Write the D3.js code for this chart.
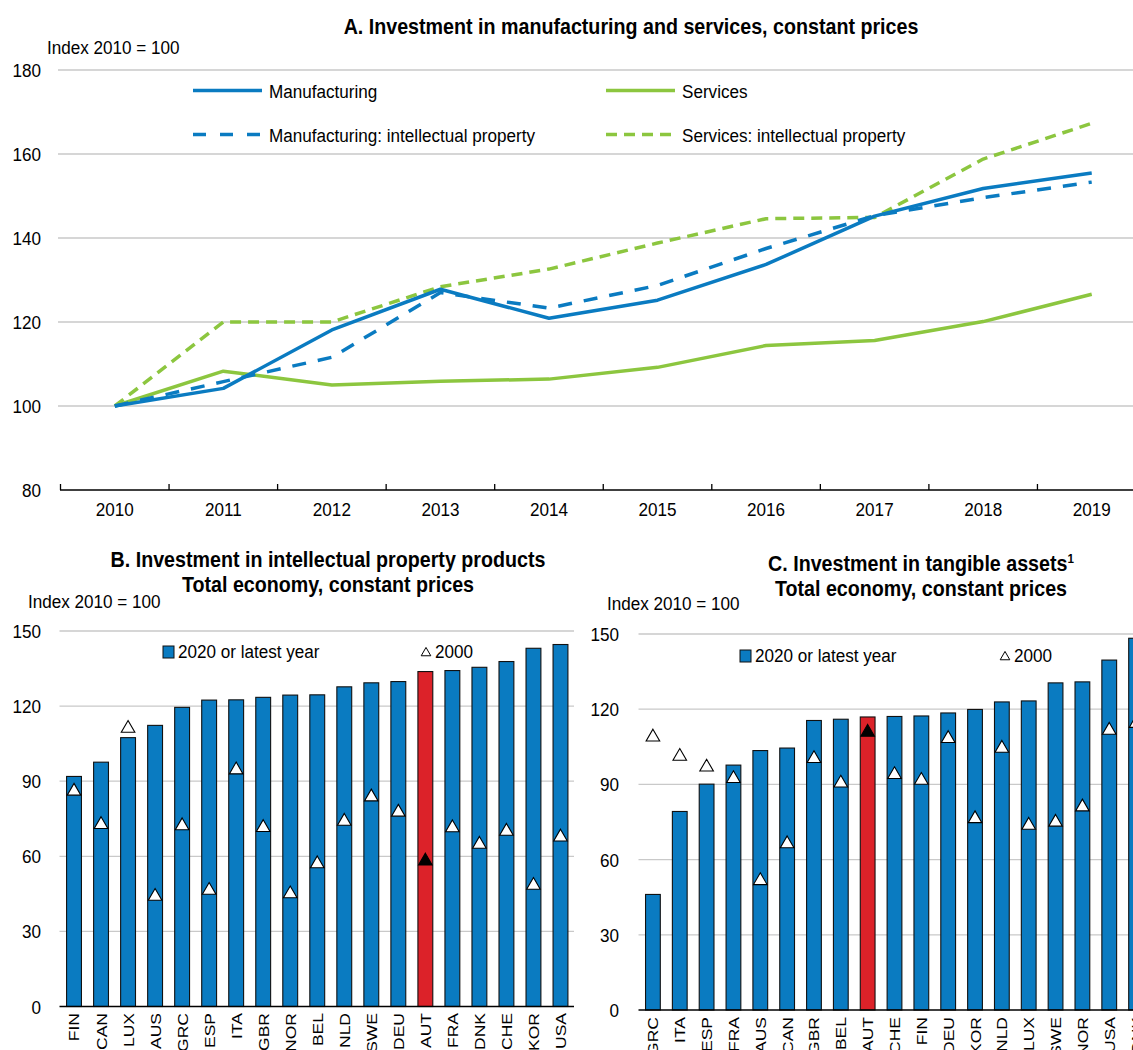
<!DOCTYPE html>
<html><head><meta charset="utf-8">
<script src="https://cdn.jsdelivr.net/npm/d3@7"></script>
<style>
body{margin:0;background:#fff;}
svg{display:block;font-family:"Liberation Sans",Arial,sans-serif;}
</style></head><body>
<svg id="c" width="1133" height="1050"></svg>
<script>
// ---- Panel A data ----
const years = ["2010","2011","2012","2013","2014","2015","2016","2017","2018","2019"];
const manufacturing   = [100,104.2,118.1,127.8,120.9,125.2,133.7,145.2,151.8,155.5];
const manufacturingIP = [100,105.8,111.6,127.0,123.3,128.7,137.5,145.3,149.6,153.3];
const services        = [100,108.3,105.0,105.9,106.4,109.2,114.4,115.6,120.1,126.6];
const servicesIP      = [100,120.0,120.0,128.4,132.6,138.8,144.6,144.9,158.8,167.3];
const yTicksA = [80,100,120,140,160,180];

// ---- Panel B data ----
const countriesB = ["FIN","CAN","LUX","AUS","GRC","ESP","ITA","GBR","NOR","BEL","NLD","SWE","DEU","AUT","FRA","DNK","CHE","KOR","USA"];
const latestB = [91.9,97.6,107.4,112.3,119.5,122.4,122.5,123.5,124.4,124.5,127.7,129.3,129.8,133.8,134.2,135.5,137.8,143.1,144.6];
const y2000B  = [86.0,72.7,111.1,44.0,72.2,46.4,94.5,71.5,45.0,57.0,74.0,83.7,77.6,58.1,71.4,64.8,70.0,48.4,67.7];

// ---- Panel C data ----
const countriesC = ["GRC","ITA","ESP","FRA","AUS","CAN","GBR","BEL","AUT","CHE","FIN","DEU","KOR","NLD","LUX","SWE","NOR","USA","DNK"];
const latestC = [46.1,79.2,90.1,97.7,103.5,104.5,115.5,116.0,116.9,117.1,117.3,118.5,119.9,122.9,123.3,130.5,130.9,139.6,148.3];
const y2000C  = [108.9,101.2,96.9,92.3,51.6,66.3,100.3,90.5,110.8,93.9,91.6,108.3,76.3,104.4,73.7,74.9,81.0,111.6,114.3];
const yTicksBC = [0,30,60,90,120,150];

const highlight = "AUT";
const BLUE = "#0a7bc1", GREEN = "#8cc63f", RED = "#dc2229", GRID = "#c9c9c9";
const FS = 19, SX = 0.9;        // regular text
const FB = 22, SXB = 0.894;     // bold titles

const svg = d3.select("#c");

function T(g, x, y, str, o={}){
  const size = o.size || (o.bold?FB:FS);
  const sx = o.sx || (o.bold?SXB:SX);
  const t = g.append("text")
    .attr("transform", `translate(${x},${y}) scale(${sx},1)`)
    .attr("font-size", size)
    .attr("text-anchor", o.anchor || "start")
    .attr("fill", "#000");
  if (o.bold) t.attr("font-weight","bold");
  t.text(str);
  return t;
}

// ================= Panel A =================
(function(){
  const x = d3.scaleBand().domain(years).range([60.5, 1146]);
  const y = d3.scaleLinear().domain([80,180]).range([490,70]);
  const g = svg.append("g");
  T(g, 631, 34, "A. Investment in manufacturing and services, constant prices", {bold:true, anchor:"middle"});
  T(g, 47, 54, "Index 2010 = 100");
  g.selectAll("line.grid").data(yTicksA.filter(d=>d>80)).join("line")
    .attr("x1",58).attr("x2",1133).attr("y1",d=>y(d)).attr("y2",d=>y(d))
    .attr("stroke",GRID).attr("stroke-width",1.3);
  yTicksA.forEach(d=>T(g, 41, y(d)+7, d, {anchor:"end"}));
  g.append("line").attr("x1",60).attr("x2",1133).attr("y1",490).attr("y2",490).attr("stroke","#000").attr("stroke-width",1.5);
  g.selectAll("line.xt").data(years.map(d=>x(d))).join("line")
    .attr("x1",d=>d).attr("x2",d=>d).attr("y1",490).attr("y2",484).attr("stroke","#000").attr("stroke-width",1.3);
  years.forEach(d=>T(g, x(d)+x.bandwidth()/2, 516, d, {anchor:"middle"}));
  const line = d3.line().x((d,i)=>x(years[i])+x.bandwidth()/2).y(d=>y(d));
  const series = [
    {v:services,c:GREEN,dash:null},
    {v:servicesIP,c:GREEN,dash:"11,7"},
    {v:manufacturingIP,c:BLUE,dash:"14,12"},
    {v:manufacturing,c:BLUE,dash:null}
  ];
  series.forEach(s=>{
    g.append("path").datum(s.v).attr("d",line).attr("fill","none").attr("stroke",s.c)
      .attr("stroke-width",3.5).attr("stroke-dasharray",s.dash).attr("stroke-linejoin","round");
  });
  const leg = [
    {t:"Manufacturing",c:BLUE,dash:null,x:193,y:90.5},
    {t:"Manufacturing: intellectual property",c:BLUE,dash:"13,14",x:193,y:134.5},
    {t:"Services",c:GREEN,dash:null,x:606,y:90.5},
    {t:"Services: intellectual property",c:GREEN,dash:"11,7",x:606,y:134.5}
  ];
  leg.forEach(l=>{
    g.append("line").attr("x1",l.x).attr("x2",l.x+69).attr("y1",l.y).attr("y2",l.y)
      .attr("stroke",l.c).attr("stroke-width",3.5).attr("stroke-dasharray",l.dash);
    T(g, l.x+76, l.y+7, l.t);
  });
})();

// ================= Bar panels =================
function barPanel(o){
  const g = svg.append("g");
  const x = d3.scaleBand().domain(o.cats).range(o.xr).paddingInner(0.45).paddingOuter(0.225);
  const y = d3.scaleLinear().domain([0,150]).range(o.yr);
  o.title.forEach((t,i)=>{
    const tx = T(g, o.tx, o.ty+i*25, t.t, {bold:true, anchor:"middle"});
    if (t.sup) tx.append("tspan").attr("font-size",13).attr("dy",-8).text(t.sup);
  });
  T(g, o.ix, o.iy, "Index 2010 = 100");
  const xEnd = Math.min(o.xr[1],1133);
  g.selectAll("line.grid").data(yTicksBC.filter(d=>d>0)).join("line")
    .attr("x1",o.xr[0]-1).attr("x2",xEnd).attr("y1",d=>y(d)).attr("y2",d=>y(d))
    .attr("stroke",GRID).attr("stroke-width",1.3);
  yTicksBC.forEach(d=>T(g, o.lx, y(d)+7, d, {anchor:"end"}));
  g.selectAll("rect.bar").data(o.cats).join("rect")
    .attr("x",d=>x(d)).attr("width",x.bandwidth())
    .attr("y",(d,i)=>y(o.latest[i])).attr("height",(d,i)=>y(0)-y(o.latest[i]))
    .attr("fill",d=>d===highlight?RED:BLUE).attr("stroke","#111").attr("stroke-width",1.1);
  g.append("line").attr("x1",o.xr[0]-1).attr("x2",xEnd).attr("y1",y(0)).attr("y2",y(0))
    .attr("stroke","#000").attr("stroke-width",1.6);
  const tri = d3.symbol().type(d3.symbolTriangle).size(80);
  g.selectAll("path.tri").data(o.cats).join("path")
    .attr("d",tri).attr("transform",(d,i)=>`translate(${x(d)+x.bandwidth()/2},${y(o.y2000[i])})`)
    .attr("fill",d=>d===highlight?"#000":"#fff").attr("stroke","#000").attr("stroke-width",1.1);
  g.selectAll("text.xl").data(o.cats).join("text")
    .attr("transform",d=>`translate(${x(d)+x.bandwidth()/2},${o.lt}) rotate(-90) scale(1,0.87)`)
    .attr("text-anchor","end").attr("dy","0.36em").attr("font-size",17.5).text(d=>d);
  g.append("rect").attr("x",o.lg[0]).attr("y",o.lg[1]-12).attr("width",11).attr("height",12)
    .attr("fill",BLUE).attr("stroke","#111").attr("stroke-width",1);
  T(g, o.lg[0]+15, o.lg[1], "2020 or latest year");
  g.append("path").attr("d",d3.symbol().type(d3.symbolTriangle).size(40))
    .attr("transform",`translate(${o.lg[2]+5},${o.lg[1]-5})`).attr("fill","#fff").attr("stroke","#000").attr("stroke-width",1);
  T(g, o.lg[2]+14, o.lg[1], "2000");
}

barPanel({cats:countriesB, latest:latestB, y2000:y2000B, xr:[60.5,574], yr:[1006.5,631],
  title:[{t:"B. Investment in intellectual property products"},{t:"Total economy, constant prices"}],
  tx:328, ty:567, ix:28, iy:608, lx:41, lt:1013, lg:[163,658,421]});
barPanel({cats:countriesC, latest:latestC, y2000:y2000C, xr:[639.5,1149.5], yr:[1010,634],
  title:[{t:"C. Investment in tangible assets",sup:"1"},{t:"Total economy, constant prices"}],
  tx:921, ty:571, ix:607, iy:610, lx:619, lt:1017, lg:[740,662,1000]});
</script>
</body></html>
